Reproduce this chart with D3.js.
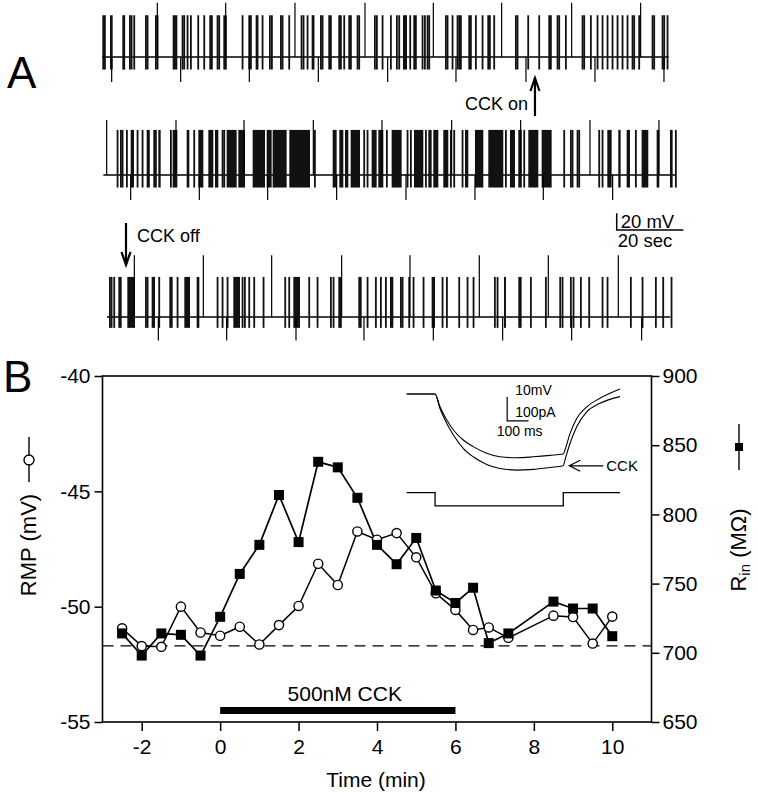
<!DOCTYPE html>
<html>
<head>
<meta charset="utf-8">
<script src="https://cdn.jsdelivr.net/npm/d3@7"></script>
<style>
body { margin: 0; background: #fff; }
text { font-family: "Liberation Sans", Arial, sans-serif; fill: #000; }
</style>
</head>
<body>
<svg id="fig"></svg>
<script>
// ---- Panel A: burst times (s); single numbers are narrow bursts, pairs are [start, end]
const trace1Bursts = [0.1, 0.6, [2.4, 3.2], 6.1, 6.4, 8.1, 8.6, 9.4, 12.9, 13.4, 15.9, 16.4, [21.2, 22.6], 23.9, 24.4, 25.4, 26.4, 28.6, 30.4, 32.2, 32.7, 34.4, 34.9, 36.4, 36.9, 41.9, 43.9, 44.4, 46.1, 46.4, 47.9, 50.1, 50.7, 53.4, 53.9, 55.9, 59.6, 60.2, 61.4, 62.9, 63.2, 65.4, 65.9, 67.9, 68.4, 70.9, 71.4, 72.4, 73.9, 74.4, 76.4, 76.9, 81.6, 82.2, 83.9, 86.4, 88.2, 88.9, [90.3, 91.5], 92.2, 93.4, 93.9, 95.9, 96.6, 97.4, 97.9, 102.9, 103.4, 104.9, 106.4, 106.9, 107.4, 109.9, 110.4, 111.9, 113.9, 115.6, 116.1, 117.4, 123.9, 124.4, 127.6, 130.9, 133.9, 134.4, 136.4, 136.9, 138.9, 143.9, 144.4, 146.4, 148.4, 149.9, 151.4, 152.9, 154.4, 155.9, 157.4, 158.9, 159.4, 160.9, 164.9, 165.4, 167.9, 168.4, 169.4]
const trace1Tall = [16.6, 37.1, 57.9, 78.9, 99.4, 119.9, 140.9, 161.6]
const trace1Down = [2.9, 23.6, 44.2, 64.9, 85.7, 106.2, 127.2, 147.9, 168.6]

const trace2Bursts = [[4.4, 4.9], 5.4, [5.9, 6.4], 7.2, [8.6, 9.6], 10.4, 11.9, 13.4, 13.8, 15.4, 15.9, [16.9, 17.6], 20.4, [21.2, 22.6], [25.4, 26.2], 27.4, [28.9, 30.4], [31.9, 33.4], [33.9, 34.9], 35.9, 36.4, [37.4, 40.4], [40.9, 42.9], [45.2, 48.9], [49.4, 50.9], [51.2, 55.4], [56.2, 62.4], 63.6, [69.2, 70.4], [71.2, 72.4], [72.9, 73.9], [74.6, 77.4], 78.4, 79.4, [80.9, 82.4], [82.9, 84.4], 85.2, [86.9, 89.9], 91.4, 92.4, [93.6, 96.4], 96.9, [97.9, 98.9], [99.4, 100.9], [102.4, 103.9], 104.4, 105.4, 107.9, [108.9, 109.9], [111.9, 114.4], [115.9, 120.4], 120.9, [122.4, 123.9], 124.9, 125.4, 126.4, [127.9, 130.9], [131.9, 134.9], 138.4, 140.4, 140.9, 142.4, 142.9, 148.9, 149.9, [151.6, 152.9], [154.9, 155.6], [157.4, 158.4], 159.9, [161.9, 163.9], [166.4, 167.2], [170.4, 171.2], 171.9]
const trace2Tall = [1.4, 22.2, 42.6, 63.4, 84, 104.9, 125.6, 146.4, 167.1]
const trace2Down = [8.6, 29.2, 49.7, 70.4, 91.2, 111.9, 132.4, 153.2]

const trace3Bursts = [2.1, 2.6, 3.4, [4.9, 5.9], [7.6, 9.9], 12.9, 13.4, [14.9, 15.9], 16.9, [20.2, 21.2], 22.4, [24.7, 26.4], [28.4, 29.2], [34.4, 34.9], 35.9, 37.4, [39.4, 41.4], 41.9, 42.6, 43.9, 45.4, 48.2, 54.7, 55.9, [57.4, 59.4], 61.9, 64.4, 68.4, 69.2, 70.9, 71.4, [76.9, 77.9], 79.4, 81.9, 83.4, 84.9, [86.4, 87.4], 89.4, 89.9, 91.9, 93.2, 96.2, [98.9, 99.9], 101.9, 103.2, [106.9, 107.4], 109.4, 111.2, 117.6, 118.4, [120.6, 121.2], [124.9, 125.9], 128.4, [132.9, 133.4], 137.2, 137.9, 140.4, [141.2, 141.6], 143.4, [145.9, 146.4], [149.9, 150.4], 151.4, [158.4, 158.9], 161.9, 165.9, [168.1, 168.6], 170.6]
const trace3Tall = [9.7, 30.4, 50.9, 71.9, 92.4, 113.2, 133.9, 154.9]
const trace3Down = [16.9, 37.4, 58.2, 78.6, 99.4, 120.2, 140.9, 161.9]

// spike amplitudes relative to baseline (mV) for traces 1..3
const burstPeak = [50, 54, 48]
const burstTrough = [-15, -15, -13]
const tallPeak = [65, 66, 74]
const downTrough = [-30, -30, -28]
const traceSpan = [[0, 170], [0.4, 172], [1.5, 170.5]]
const cckOnTime = 129.9, cckOffTime = 7.2
const scaleMv = 20, scaleSec = 20

// ---- Panel B
const timeMin = [-2.5, -2, -1.5, -1, -0.5, 0, 0.5, 1, 1.5, 2, 2.5, 3, 3.5, 4, 4.5, 5, 5.5, 6, 6.45, 6.85, 7.35, 8.5, 9, 9.5, 10]
const rmp = [-50.94, -51.71, -51.74, -50.0, -51.12, -51.26, -50.87, -51.64, -50.8, -49.97, -48.14, -49.06, -46.74, -47.1, -46.81, -47.86, -49.42, -50.14, -51.01, -50.9, -51.35, -50.39, -50.45, -51.6, -50.43]
const rin = [714, 698, 714, 713, 698, 726, 757, 778, 814, 780, 838, 834, 812, 778, 764, 783, 745, 736, 747, 707, 714, 737, 732, 732, 712]
const rmpBaseline = -51.7
const drugStart = 0, drugEnd = 6, drugLabel = '500nM CCK'
const xTicks = [-2, 0, 2, 4, 6, 8, 10]
const yLeftTicks = [-55, -50, -45, -40]
const yRightTicks = [650, 700, 750, 800, 850, 900]

// ---- Inset (ms, mV, pA)
const insetTime = [0, 133, 156, 188, 219, 265, 312, 375, 437, 516, 594, 672, 734, 742, 766, 797, 844, 906, 1000]
const insetControl = [0, 0, -5.4, -11, -15.2, -19.4, -22.2, -25, -26.5, -26.9, -26.5, -25.9, -25.3, -23.6, -16.6, -10.3, -5.4, -1.8, 2.1]
const insetCck = [0, 0, -6.1, -12.4, -17.3, -22.9, -26.5, -29.7, -31.4, -32.1, -31.8, -31, -30.3, -27.8, -20.8, -13.8, -7.5, -3.9, -1.1]
const stepTime = [0, 133, 133, 734, 734, 1000]
const stepCurrent = [0, 0, -56, -56, 0, 0]

const W = 758, H = 800
const svg = d3.select('#fig').attr('width', W).attr('height', H)
svg.append('rect').attr('width', W).attr('height', H).attr('fill', '#fff')

// ================= Panel A =================
svg.append('text').attr('x', 7).attr('y', 88).attr('font-size', 44).text('A')

const tx = d3.scaleLinear().domain([0, 172]).range([102, 675.3])
const traceBase = [57, 175, 317]
const traces = [
    { bursts: trace1Bursts, tall: trace1Tall, down: trace1Down },
    { bursts: trace2Bursts, tall: trace2Tall, down: trace2Down },
    { bursts: trace3Bursts, tall: trace3Tall, down: trace3Down }
]

traces.forEach((tr, i) => {
    const ty = d3.scaleLinear().domain([0, 20]).range([traceBase[i], traceBase[i] - 16.7])
    const g = svg.append('g')
    g.append('line')
        .attr('x1', tx(traceSpan[i][0])).attr('x2', tx(traceSpan[i][1]))
        .attr('y1', ty(0)).attr('y2', ty(0))
        .attr('stroke', '#000').attr('stroke-width', 1.3)
    g.selectAll('rect')
        .data(tr.bursts.map(d => Array.isArray(d) ? d : [d, d + 0.5]))
        .join('rect')
        .attr('x', d => tx(d[0]))
        .attr('width', d => Math.max(1.8, tx(d[1]) - tx(d[0])))
        .attr('y', ty(burstPeak[i]))
        .attr('height', ty(burstTrough[i]) - ty(burstPeak[i]))
        .attr('fill', '#111')
    g.selectAll('line.tall')
        .data(tr.tall).join('line').classed('tall', true)
        .attr('x1', d => tx(d)).attr('x2', d => tx(d))
        .attr('y1', ty(tallPeak[i])).attr('y2', ty(0))
        .attr('stroke', '#000').attr('stroke-width', 1.2)
    g.selectAll('line.down')
        .data(tr.down).join('line').classed('down', true)
        .attr('x1', d => tx(d)).attr('x2', d => tx(d))
        .attr('y1', ty(0)).attr('y2', ty(downTrough[i]))
        .attr('stroke', '#000').attr('stroke-width', 1.2)
})

function arrow(x, yFrom, yTo) {
    const dir = yTo > yFrom ? 1 : -1
    svg.append('line').attr('x1', x).attr('x2', x).attr('y1', yFrom).attr('y2', yTo)
        .attr('stroke', '#000').attr('stroke-width', 2.2)
    svg.append('path')
        .attr('d', `M${x - 4.5} ${yTo - dir * 13} L${x} ${yTo} L${x + 4.5} ${yTo - dir * 13}`)
        .attr('fill', 'none').attr('stroke', '#000').attr('stroke-width', 2.2)
}

// CCK on (trace 1) / off (trace 3)
arrow(tx(cckOnTime), 116, 78)
svg.append('text').attr('x', tx(cckOnTime) - 7).attr('y', 110)
    .attr('text-anchor', 'end').attr('font-size', 18).text('CCK on')
arrow(tx(cckOffTime), 223, 265)
svg.append('text').attr('x', tx(cckOffTime) + 11).attr('y', 242)
    .attr('font-size', 18).text('CCK off')

// scale bar
const sbX = 616.7, sbY = 230
svg.append('path')
    .attr('d', `M${sbX} ${sbY - scaleMv * 16.7 / 20} L${sbX} ${sbY} L${sbX + tx(scaleSec) - tx(0)} ${sbY}`)
    .attr('fill', 'none').attr('stroke', '#000').attr('stroke-width', 1.5)
svg.append('text').attr('x', sbX + 4).attr('y', 228).attr('font-size', 18.5).text('20 mV')
svg.append('text').attr('x', sbX + 1).attr('y', 247).attr('font-size', 18.5).text('20 sec')

// ================= Panel B =================
svg.append('text').attr('x', 3).attr('y', 392).attr('font-size', 44).text('B')

const x = d3.scaleLinear().domain([-3, 11]).range([102.5, 651.5])
const yL = d3.scaleLinear().domain([-55, -40]).range([722, 376])
const yR = d3.scaleLinear().domain([650, 900]).range([722, 376])

svg.append('rect')
    .attr('x', x.range()[0]).attr('y', yL.range()[1])
    .attr('width', x.range()[1] - x.range()[0]).attr('height', yL.range()[0] - yL.range()[1])
    .attr('fill', 'none').attr('stroke', '#000').attr('stroke-width', 1.6)

const fmt = d => String(d)
const axL = svg.append('g').attr('transform', `translate(${x.range()[0]},0)`)
    .call(d3.axisLeft(yL).tickValues(yLeftTicks).tickFormat(fmt).tickSize(8).tickSizeOuter(0).tickPadding(4))
const axR = svg.append('g').attr('transform', `translate(${x.range()[1]},0)`)
    .call(d3.axisRight(yR).tickValues(yRightTicks).tickFormat(fmt).tickSize(8).tickSizeOuter(0).tickPadding(3))
const axB = svg.append('g').attr('transform', `translate(0,${yL.range()[0]})`)
    .call(d3.axisBottom(x).tickValues(xTicks).tickFormat(fmt).tickSize(9).tickSizeOuter(0).tickPadding(8))
;[axL, axR, axB].forEach(a => {
    a.select('.domain').remove()
    a.selectAll('line').attr('stroke', '#000').attr('stroke-width', 1.5)
    a.selectAll('text').attr('font-size', 21).attr('font-family', '"Liberation Sans", Arial, sans-serif').attr('fill', '#000')
})

// baseline RMP (dashed)
svg.append('line')
    .attr('x1', x.range()[0]).attr('x2', x.range()[1])
    .attr('y1', yL(rmpBaseline)).attr('y2', yL(rmpBaseline))
    .attr('stroke', '#000').attr('stroke-width', 1.4).attr('stroke-dasharray', '11,7')

// drug bar
svg.append('rect')
    .attr('x', x(drugStart)).attr('width', x(drugEnd) - x(drugStart))
    .attr('y', 707).attr('height', 7).attr('fill', '#000')
svg.append('text').attr('x', x((drugStart + drugEnd) / 2) + 7).attr('y', 701)
    .attr('text-anchor', 'middle').attr('font-size', 21).text(drugLabel)

// series
const pts = timeMin.map((t, i) => ({ t, rmp: rmp[i], rin: rin[i] }))
svg.append('path').datum(pts)
    .attr('d', d3.line().x(d => x(d.t)).y(d => yR(d.rin)))
    .attr('fill', 'none').attr('stroke', '#000').attr('stroke-width', 1.7)
svg.append('path').datum(pts)
    .attr('d', d3.line().x(d => x(d.t)).y(d => yL(d.rmp)))
    .attr('fill', 'none').attr('stroke', '#000').attr('stroke-width', 1.5)
svg.selectAll('circle.rmp').data(pts).join('circle').classed('rmp', true)
    .attr('cx', d => x(d.t)).attr('cy', d => yL(d.rmp)).attr('r', 4.6)
    .attr('fill', '#fff').attr('stroke', '#000').attr('stroke-width', 1.4)
svg.selectAll('rect.rin').data(pts).join('rect').classed('rin', true)
    .attr('x', d => x(d.t) - 5).attr('y', d => yR(d.rin) - 5)
    .attr('width', 10).attr('height', 10).attr('fill', '#000')

// axis titles
svg.append('text').attr('x', 376).attr('y', 787).attr('text-anchor', 'middle')
    .attr('font-size', 21).text('Time (min)')
svg.append('text').attr('transform', 'translate(36,545) rotate(-90)')
    .attr('text-anchor', 'middle').attr('font-size', 22).text('RMP (mV)')
svg.append('line').attr('x1', 29).attr('x2', 29).attr('y1', 437).attr('y2', 482)
    .attr('stroke', '#000').attr('stroke-width', 1.4)
svg.append('circle').attr('cx', 29).attr('cy', 460).attr('r', 5)
    .attr('fill', '#fff').attr('stroke', '#000').attr('stroke-width', 1.4)

const rLab = svg.append('text').attr('transform', 'translate(746,550) rotate(-90)')
    .attr('text-anchor', 'middle').attr('font-size', 22)
rLab.append('tspan').text('R')
rLab.append('tspan').attr('font-size', 15).attr('dy', 4).text('in')
rLab.append('tspan').attr('dy', -4).text(' (M\u03A9)')
svg.append('line').attr('x1', 739).attr('x2', 739).attr('y1', 424).attr('y2', 470)
    .attr('stroke', '#000').attr('stroke-width', 1.4)
svg.append('rect').attr('x', 735).attr('y', 443).attr('width', 8).attr('height', 8).attr('fill', '#000')

// ---- inset
const ix = d3.scaleLinear().domain([0, 1000]).range([406.7, 620])
const iv = d3.scaleLinear().domain([0, -10]).range([394, 417.7])
const ii = d3.scaleLinear().domain([0, -100]).range([492.7, 516.4])
const insetLine = d3.line().curve(d3.curveMonotoneX)
;[insetControl, insetCck].forEach(vals => {
    svg.append('path')
        .datum(insetTime.map((t, k) => [ix(t), iv(vals[k])]))
        .attr('d', insetLine)
        .attr('fill', 'none').attr('stroke', '#000').attr('stroke-width', 1.1)
})
svg.append('path')
    .datum(stepTime.map((t, k) => [ix(t), ii(stepCurrent[k])]))
    .attr('d', d3.line())
    .attr('fill', 'none').attr('stroke', '#000').attr('stroke-width', 1.3)

// inset scale bar: 10 mV / 100 pA vertical, 100 ms horizontal
const isbX = ix(471), isbY = iv(-11.3)
svg.append('path')
    .attr('d', `M${isbX} ${isbY - (iv(-10) - iv(0))} L${isbX} ${isbY} L${isbX + ix(100) - ix(0)} ${isbY}`)
    .attr('fill', 'none').attr('stroke', '#000').attr('stroke-width', 1.2)
svg.append('text').attr('x', isbX + 8).attr('y', 395).attr('font-size', 14).text('10mV')
svg.append('text').attr('x', isbX + 8).attr('y', 416.5).attr('font-size', 14).text('100pA')
svg.append('text').attr('x', isbX - 10.5).attr('y', 435.5).attr('font-size', 14).text('100 ms')

// CCK pointer
const tipX = ix(734) + 6, tipY = iv(insetCck[12])
svg.append('path')
    .attr('d', `M${tipX + 34} ${tipY} L${tipX} ${tipY} M${tipX + 11} ${tipY - 5.5} L${tipX} ${tipY} L${tipX + 11} ${tipY + 5.5}`)
    .attr('fill', 'none').attr('stroke', '#000').attr('stroke-width', 1.2)
svg.append('text').attr('x', tipX + 37).attr('y', tipY + 5.5).attr('font-size', 15).text('CCK')
</script>
</body>
</html>
